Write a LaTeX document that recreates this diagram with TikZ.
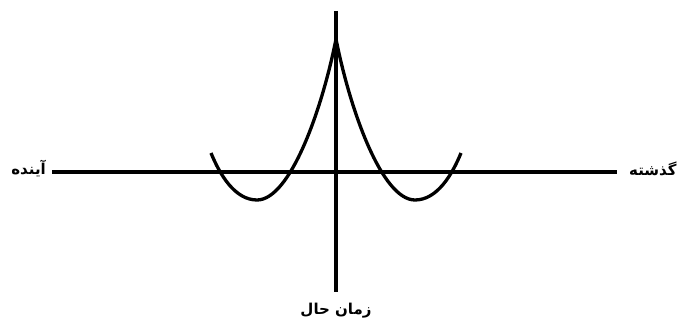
\documentclass[tikz,border=0pt]{standalone}
\usepackage{fontspec}
\usepackage{tikz}
\usetikzlibrary{positioning, calc}
\TeXXeTstate=1
\newfontfamily\arabicfont[Script=Arabic]{DejaVu Sans}
\tikzset{
  axis line/.style={draw, line width=3.3pt},
  wave/.style={draw, line width=3.3pt, line join=round},
  label/.style={font=\arabicfont\bfseries\fontsize{15}{17}\selectfont, inner sep=0pt},
}

\begin{document}
\begin{tikzpicture}[x=1pt, y=-1pt]
  \useasboundingbox (0,0) rectangle (681,323);

  % Axes
  \coordinate (top) at (336,11);
  \coordinate (bottom) at (336,292);
  \coordinate (left) at (52,172);
  \coordinate (right) at (617,172);

  \node[label, anchor=east] (future) at (46,169) {\beginR آینده\endR};
  \node[label, anchor=west] (past) at (629,169) {\beginR گذشته\endR};
  \node[label, below=11pt of bottom] (present) {\beginR زمان حال\endR};

  \draw[axis line] (left) -- (right);
  \draw[axis line] (top) -- (bottom);

  % Curve
  \coordinate (peak) at (336,39);
  \coordinate (lmin) at (257,200);
  \coordinate (rmin) at (415,200);
  \coordinate (lend) at (211,153);
  \coordinate (rend) at (461,153);

  \draw[wave] (lend) .. controls (220,175) and (235,200) .. (lmin)
    .. controls (290,200) and (322,110) .. (peak)
    .. controls (350,110) and (382,200) .. (rmin)
    .. controls (437,200) and (452,175) .. (rend);
\end{tikzpicture}
\end{document}
